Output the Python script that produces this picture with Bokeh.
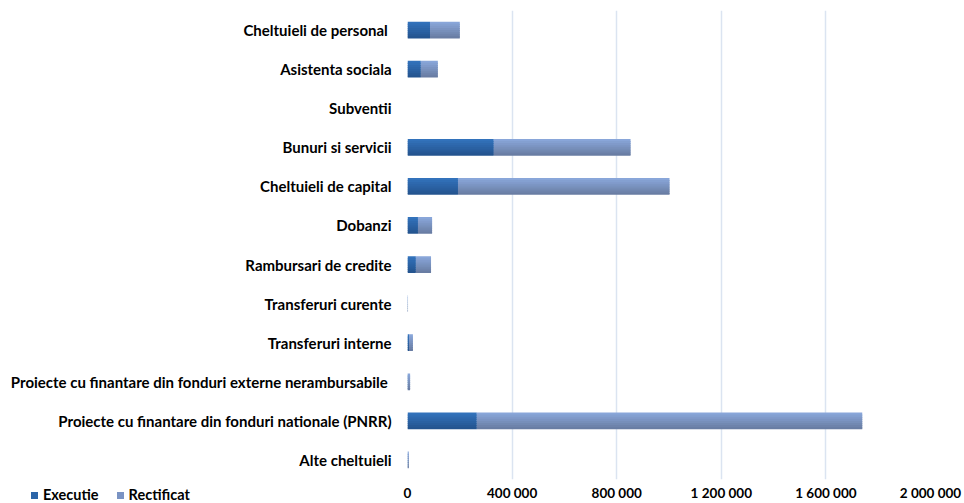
from bokeh.plotting import figure
from bokeh.models import (ColumnDataSource, FactorRange, Range1d, CustomJSTickFormatter,
                          FixedTicker, GridBox, Div)
from bokeh.embed import file_html
from bokeh.resources import INLINE

categories = [
    "Cheltuieli de personal ",
    "Asistenta sociala",
    "Subventii",
    "Bunuri si servicii",
    "Cheltuieli de capital",
    "Dobanzi",
    "Rambursari de credite",
    "Transferuri curente",
    "Transferuri interne",
    "Proiecte cu finantare din fonduri externe nerambursabile ",
    "Proiecte cu finantare din fonduri nationale (PNRR)",
    "Alte cheltuieli",
]
executie = [86000, 51000, 0, 330000, 193000, 40000, 32000, 500, 5700, 1500, 265000, 1000]
rectificat = [114000, 65000, 0, 523000, 809000, 54000, 58000, 1500, 15000, 8500, 1474000, 4000]
series = ["Executie", "Rectificat"]
x_ticks = [0, 400000, 800000, 1200000, 1600000, 2000000]

C_EXEC = "#2c65a8"
C_RECT = "#7a93c3"
# vertical shading of the bars (top -> bottom), as in the original
EXEC_TOP, EXEC_BOT = (0x32, 0x72, 0xbb), (0x24, 0x54, 0x8f)
RECT_TOP, RECT_BOT = (0x89, 0xa6, 0xd9), (0x69, 0x7d, 0xa3)


def mix(a, b, t):
    return "#%02x%02x%02x" % tuple(round(a[i] + (b[i] - a[i]) * t) for i in range(3))


BAR_H = 0.43
p = figure(
    width=964, height=503,
    y_range=FactorRange(*list(reversed(categories)), range_padding=0),
    x_range=Range1d(0, 2000000),
    output_backend="svg", toolbar_location=None,
    min_border_left=407, min_border_right=34, min_border_top=10, min_border_bottom=22,
)
p.outline_line_color = None
p.background_fill_color = "white"
p.border_fill_color = "white"

n = 8
b = BAR_H / n
top = BAR_H / 2
for k in range(n):
    t0 = top - k * b
    t1 = top - (k + 1) * b - (0.6 * b if k < n - 1 else 0.0)
    src = ColumnDataSource(dict(y=[(c, (t0 + t1) / 2) for c in categories],
                                Executie=executie, Rectificat=rectificat))
    tt = k / (n - 1)
    p.hbar_stack(series, y="y", height=t0 - t1,
                 color=[mix(EXEC_TOP, EXEC_BOT, tt), mix(RECT_TOP, RECT_BOT, tt)],
                 line_color=None, source=src)

p.xgrid.ticker = FixedTicker(ticks=x_ticks)
p.xgrid.grid_line_color = "#dbe4f1"
p.xgrid.grid_line_width = 1.5
p.ygrid.grid_line_color = None

p.xaxis.ticker = FixedTicker(ticks=x_ticks)
p.xaxis.formatter = CustomJSTickFormatter(code="return tick.toLocaleString('en-US').replace(/,/g, ' ');")
p.xaxis.axis_line_color = None
p.xaxis.major_tick_line_color = None
p.xaxis.minor_tick_line_color = None
p.xaxis.major_tick_out = 0
p.xaxis.major_tick_in = 0
p.xaxis.major_label_text_font = "Lato"
p.xaxis.major_label_text_font_style = "bold"
p.xaxis.major_label_text_font_size = "13.5px"
p.xaxis.major_label_text_color = "#000000"
p.xaxis.major_label_standoff = 5

p.yaxis.axis_line_color = None
p.yaxis.major_tick_line_color = None
p.yaxis.minor_tick_line_color = None
p.yaxis.major_tick_out = 0
p.yaxis.major_label_text_font = "Lato"
p.yaxis.major_label_text_font_style = "bold"
p.yaxis.major_label_text_font_size = "15px"
p.yaxis.major_label_text_color = "#000000"
p.yaxis.major_label_standoff = 16

# legend as a small overlay in the bottom-left corner
sw = "display:inline-block;width:7px;height:7px;vertical-align:middle;margin-right:5px;"
items = []
for i, (s, c) in enumerate(zip(series, [C_EXEC, C_RECT])):
    ml = 26 if i == 0 else 18
    items.append(f'<span style="{sw}background:{c};margin-left:{ml}px"></span>'
                 f'<span style="vertical-align:middle">{s}</span>')
legend_div = Div(
    text=("<div style=\"font-family:Lato;font-weight:bold;font-size:14.5px;color:#000;"
          "white-space:nowrap;line-height:16px\">" + "".join(items) + "</div>"),
    width=230, height=16, styles={"margin-top": "486px"},
)

layout = GridBox(children=[(p, 0, 0), (legend_div, 0, 0)])

open("out.html", "w").write(file_html(layout, INLINE))
